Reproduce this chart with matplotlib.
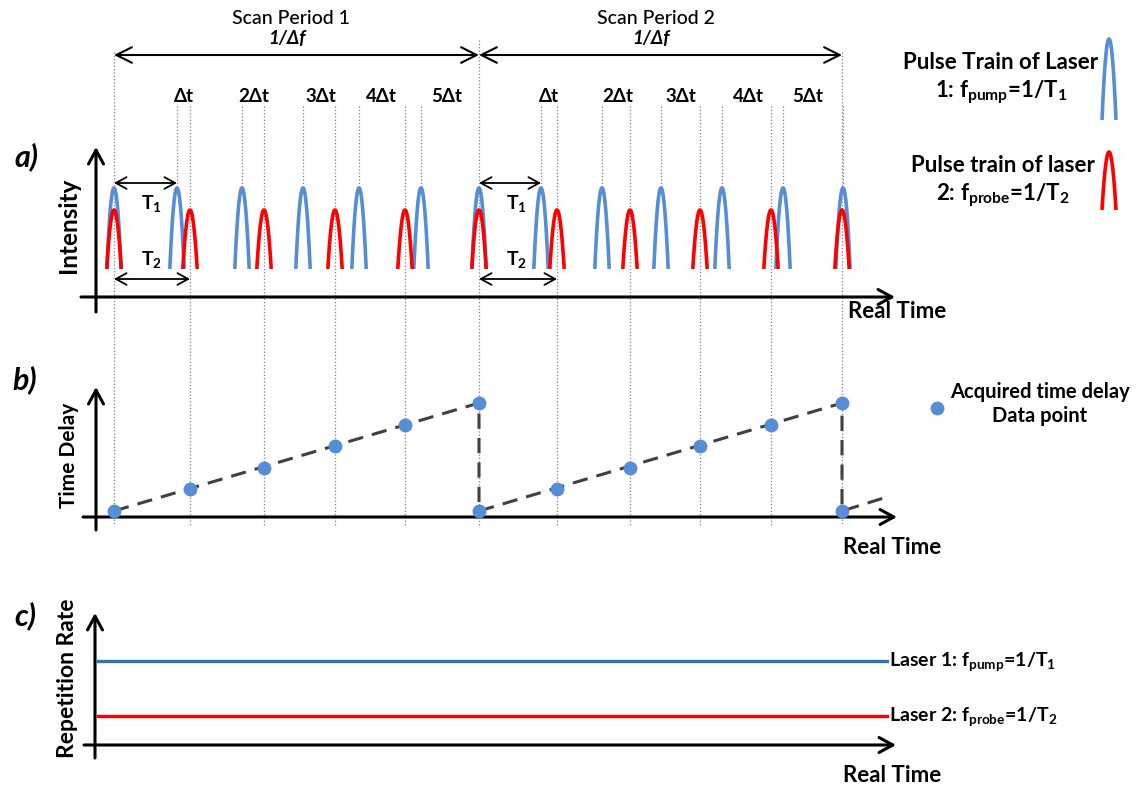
import numpy as np
import matplotlib
matplotlib.use("Agg")
import matplotlib.pyplot as plt

plt.rcParams["font.family"] = ["Lato", "DejaVu Sans"]
plt.rcParams["mathtext.fontset"] = "custom"
plt.rcParams["mathtext.rm"] = "Lato"
plt.rcParams["mathtext.bf"] = "Lato:bold"
plt.rcParams["mathtext.it"] = "Lato:bold:italic"

# pulse arrival times on the real-time axis (same units as the canvas x)
PUMP_TIMES = [114, 177, 242, 303, 359, 421, 479, 541, 602, 661, 722, 783, 843]
PROBE_TIMES = [114, 190, 264, 335, 405, 479, 557, 630, 700, 771, 842]
SCAN_STARTS = [114, 479, 842]
SCAN_NAMES = ["Scan Period 1", "Scan Period 2"]
DELAY_LABELS = ["Δt", "2Δt", "3Δt", "4Δt", "5Δt"]

# acquired time-delay samples (units of Δt)
SAMPLE_TIMES = [114, 190, 264, 335, 405, 479, 479, 557, 630, 700, 771, 842, 842]
SAMPLE_DELAYS = [0, 1, 2, 3, 4, 5, 0, 1, 2, 3, 4, 5, 0]
RAMP_TIMES = [114, 479, 479, 842, 842, 887]
RAMP_DELAYS = [0, 5, 0, 5, 0, 0.65]

# repetition rates (height above the c) axis)
RATE_NAMES = ["pump", "probe"]
RATE_LEVELS = [84, 29]

BLUE = "#558ED5"
RED = "#FF0000"
LINE_BLUE = "#2E75B6"
GRAY = "#808080"

A_BASE = 269      # pulse foot in panel a
B_ZERO = 511      # zero delay in panel b
B_STEP = 21.6
C_AXIS = 745


def pulse(ax, t, base, height, color, hw=7.2, lw=2.6):
    s = np.linspace(-1, 1, 60)
    ax.plot(t + s * hw, base - height * (1 - s ** 2), color=color, lw=lw,
            solid_capstyle="butt", zorder=3)


def arrow(ax, x0, y0, x1, y1, style="<->", lw=1.4, ms=15):
    ax.annotate("", xy=(x1, y1), xytext=(x0, y0),
                arrowprops=dict(arrowstyle=style, lw=lw, color="black",
                                shrinkA=0, shrinkB=0, mutation_scale=ms))


def axis_arrows(ax, x, y_bot, y_top, y, x_left, x_right):
    st = "->,head_length=0.55,head_width=0.3"
    arrow(ax, x, y_bot, x, y_top, style=st, lw=2.2, ms=18)
    arrow(ax, x_left, y, x_right, y, style=st, lw=2.2, ms=18)


fig = plt.figure(figsize=(11.4, 7.87), dpi=100)
ax = fig.add_axes([0, 0, 1, 1])
ax.set_xlim(0, 1140)
ax.set_ylim(787, 0)
ax.axis("off")

# --------------------------------------------------------------------------- #
# guide lines
# --------------------------------------------------------------------------- #
for i, t in enumerate(SCAN_STARTS):
    ax.plot([t, t], [40 if i == 1 else 52, 525], ls=":", color=GRAY, lw=0.9, zorder=1)
for t in PUMP_TIMES:
    if t not in SCAN_STARTS and t + 1 not in SCAN_STARTS:
        ax.plot([t, t], [106, A_BASE - 81], ls=":", color=GRAY, lw=0.9, zorder=1)
for t in PROBE_TIMES:
    if t not in SCAN_STARTS:
        ax.plot([t, t], [106, 525], ls=":", color=GRAY, lw=0.9, zorder=1)

# --------------------------------------------------------------------------- #
# a) pulse trains
# --------------------------------------------------------------------------- #
for t in PUMP_TIMES:
    pulse(ax, t, A_BASE, 81, BLUE)
for t in PROBE_TIMES:
    pulse(ax, t, A_BASE, 59, RED)

axis_arrows(ax, 96, 312, 147, 297, 81, 895)
ax.text(26, 157, "a)", fontsize=22, fontweight="bold", style="italic", ha="center", va="center")
ax.text(68, 225, "Intensity", fontsize=17.5, fontweight="bold", rotation=90, ha="center", va="center")
ax.text(897, 311, "Real Time", fontsize=16, fontweight="bold", ha="center", va="center")

lbl_x = [[184, 254, 321, 381, 447], [549, 618, 681, 748, 808]]
for k in range(2):
    t0, t1 = SCAN_STARTS[k], SCAN_STARTS[k + 1]
    arrow(ax, t0, 55, t1, 55, style="<->,head_length=0.7,head_width=0.35", lw=1.5, ms=16)
    mid = (t0 + t1) / 2
    ax.text(mid - 5, 19, SCAN_NAMES[k], fontsize=14, fontweight="medium", ha="center", va="center")
    ax.text(mid - 10, 38, "1/Δf", fontsize=13.5, fontweight="bold", style="italic",
            ha="center", va="center")
    for lab, x in zip(DELAY_LABELS, lbl_x[k]):
        ax.text(x, 97, lab, fontsize=13.5, fontweight="bold", ha="center", va="center")
    p1 = PUMP_TIMES[6 * k + 1]
    p2 = PROBE_TIMES[5 * k + 1]
    arrow(ax, t0, 183, p1, 183, style="<->,head_length=0.55,head_width=0.3", lw=1.3, ms=14)
    arrow(ax, t0, 279, p2, 279, style="<->,head_length=0.55,head_width=0.3", lw=1.3, ms=14)
    ax.text(t0 + 27, 203, r"T$_\mathbf{1}$", fontsize=14, fontweight="bold", ha="left", va="center")
    ax.text(t0 + 27, 260, r"T$_\mathbf{2}$", fontsize=14, fontweight="bold", ha="left", va="center")

# legend for pulse trains
pulse(ax, 1109, 120, 81, BLUE, hw=7)
pulse(ax, 1109, 210, 58, RED, hw=7)
ax.text(1001, 79, "Pulse Train of Laser\n" + r"1: f$_\mathbf{pump}$=1/T$_\mathbf{1}$",
        fontsize=16, fontweight="bold", ha="center", va="center", linespacing=1.3)
ax.text(1003, 182, "Pulse train of laser\n" + r"2: f$_\mathbf{probe}$=1/T$_\mathbf{2}$",
        fontsize=16, fontweight="bold", ha="center", va="center", linespacing=1.3)

# --------------------------------------------------------------------------- #
# b) acquired time delay
# --------------------------------------------------------------------------- #
ramp_y = [B_ZERO - d * B_STEP for d in RAMP_DELAYS]
ax.plot(RAMP_TIMES, ramp_y, color="#404040", lw=2.2, ls=(0, (5, 3)), zorder=2)
sample_y = [B_ZERO - d * B_STEP for d in SAMPLE_DELAYS]
ax.plot(SAMPLE_TIMES, sample_y, "o", color=BLUE, ms=9, zorder=4)

axis_arrows(ax, 96, 530, 387, 517, 83, 897)
ax.text(25, 380, "b)", fontsize=22, fontweight="bold", style="italic", ha="center", va="center")
ax.text(69, 455, "Time Delay", fontsize=15, fontweight="bold", rotation=90, ha="center", va="center")
ax.text(892, 548, "Real Time", fontsize=16, fontweight="bold", ha="center", va="center")
ax.plot([937], [408], "o", color=BLUE, ms=9)
ax.text(1040, 404, "Acquired time delay\nData point", fontsize=14.5, fontweight="bold",
        ha="center", va="center", linespacing=1.25)

# --------------------------------------------------------------------------- #
# c) repetition rates
# --------------------------------------------------------------------------- #
colors = [LINE_BLUE, RED]
labels = [r"Laser 1: f$_\mathbf{pump}$=1/T$_\mathbf{1}$",
          r"Laser 2: f$_\mathbf{probe}$=1/T$_\mathbf{2}$"]
for lvl, c, lab in zip(RATE_LEVELS, colors, labels):
    ax.plot([98, 887], [C_AXIS - lvl, C_AXIS - lvl], color=c, lw=2.4, zorder=2)
    ax.text(889, C_AXIS - lvl + 1, lab, fontsize=14, fontweight="bold", ha="left", va="center")

axis_arrows(ax, 95, 758, 613, C_AXIS, 84, 896)
ax.text(25, 616, "c)", fontsize=22, fontweight="bold", style="italic", ha="center", va="center")
ax.text(68, 678, "Repetition Rate", fontsize=16.5, fontweight="bold", rotation=90, ha="center", va="center")
ax.text(892, 775, "Real Time", fontsize=16, fontweight="bold", ha="center", va="center")

fig.savefig("out.png", dpi=100)
